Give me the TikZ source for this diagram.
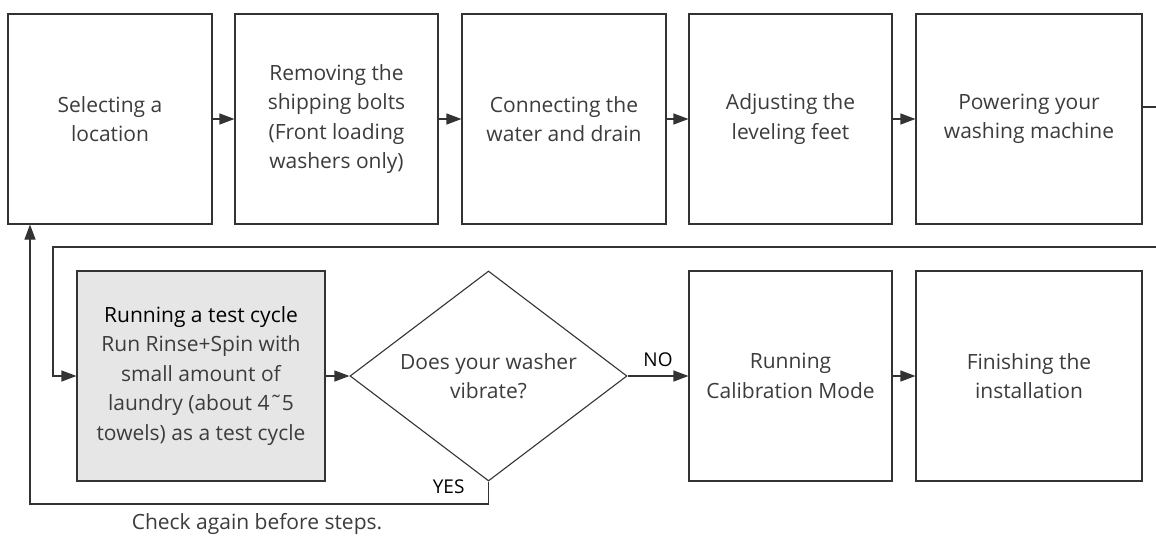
\documentclass[tikz,border=0pt]{standalone}
\usepackage{fontspec}
\setmainfont{Open Sans}
\usetikzlibrary{arrows.meta, shapes.geometric}
\definecolor{linegray}{HTML}{333333}
\definecolor{txtgray}{HTML}{3C3C3C}
\definecolor{boxfill}{HTML}{E6E6E6}

\begin{document}
\begin{tikzpicture}[x=1pt, y=-1pt,
    stepbox/.style={draw=linegray, line width=1.1pt, minimum height=210pt, align=center,
      text=txtgray, font=\fontsize{21}{29.5}\selectfont, inner sep=0pt},
    decision/.style={diamond, aspect=1.32, draw=linegray, line width=1.1pt, minimum width=277pt,
      minimum height=210pt, align=center, text=txtgray, font=\fontsize{21}{29.5}\selectfont, inner sep=0pt},
    flow/.style={draw=linegray, line width=1.1pt, -{Triangle[length=15pt, width=11pt]}},
    plain/.style={draw=linegray, line width=1.1pt}]
  \useasboundingbox (0,0) rectangle (1156,538);

  % top row
  \node[stepbox, minimum width=204pt] (loc) at (110,119) {Selecting a\\location};
  \node[stepbox, minimum width=203pt] (bolts) at (336.5,119) {Removing the\\shipping bolts\\(Front loading\\washers only)};
  \node[stepbox, minimum width=204pt] (water) at (564,119) {Connecting the\\water and drain};
  \node[stepbox, minimum width=203pt] (feet) at (790.5,119) {Adjusting the\\leveling feet};
  \node[stepbox, minimum width=226pt] (power) at (1029,119) {Powering your\\washing machine};

  % bottom row
  \node[stepbox, minimum width=248pt, fill=boxfill] (test) at (201,376)
    {{\color{black}Running a test cycle}\\Run Rinse+Spin with\\small amount of\\laundry (about 4˜5\\towels) as a test cycle};
  \node[decision] (vib) at (488.5,376) {Does your washer\\vibrate?};
  \node[stepbox, minimum width=203pt] (calib) at (790.5,376) {Running\\Calibration Mode};
  \node[stepbox, minimum width=226pt] (finish) at (1029,376) {Finishing the\\installation};

  \coordinate (outR) at (1156,107);
  \coordinate (inR) at (1156,247);
  \coordinate (inL) at (53,247);
  \coordinate (back) at (30,504);

  \draw[flow] (loc) -- (bolts);
  \draw[flow] (bolts) -- (water);
  \draw[flow] (water) -- (feet);
  \draw[flow] (feet) -- (power);
  \draw[plain] (power.east |- outR) -- (outR);
  \draw[flow] (inR) -- (inL) |- (test.west);
  \draw[flow] (test) -- (vib);
  \draw[flow] (vib) -- node[above=5pt, font=\fontsize{19}{20}\selectfont] (no) {NO} (calib);
  \draw[flow] (calib) -- (finish);
  \draw[flow] (vib.south) |- (back) -- (back |- loc.south);

  \node[font=\fontsize{19}{20}\selectfont, anchor=south east] (yes) at (468,497) {YES};
  \node[text=txtgray, font=\fontsize{21}{22}\selectfont] (note) at (257,524) {Check again before steps.};
\end{tikzpicture}
\end{document}
